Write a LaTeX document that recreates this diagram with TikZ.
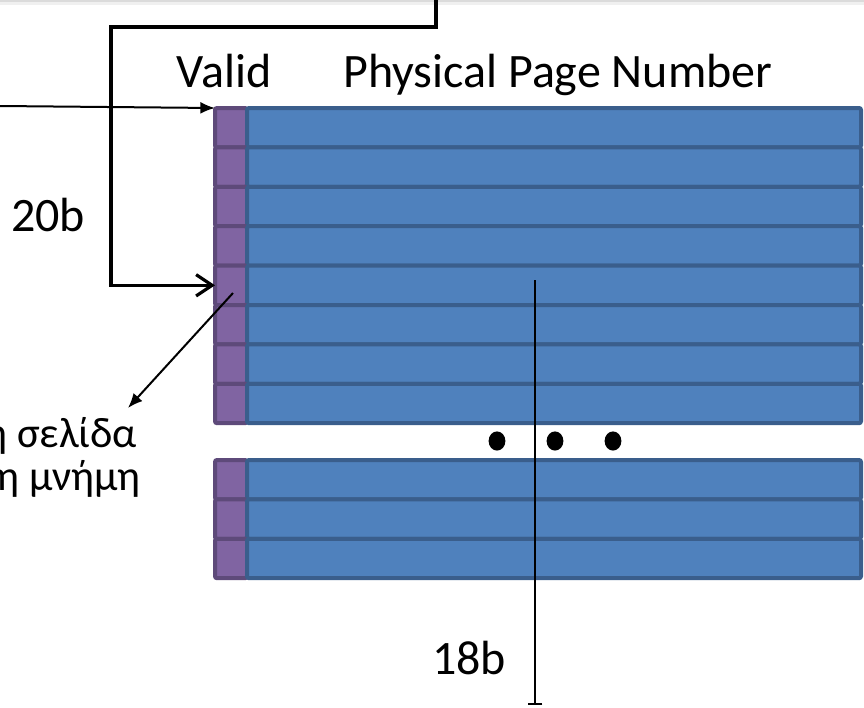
\documentclass[tikz,border=0pt]{standalone}
\usepackage{fontspec}
\setmainfont{Carlito}
\usetikzlibrary{arrows.meta}

\definecolor{validfill}{RGB}{128,100,162}
\definecolor{validline}{RGB}{94,74,122}
\definecolor{ppnfill}{RGB}{79,129,189}
\definecolor{ppnline}{RGB}{58,94,140}

\tikzset{
	validcell/.style={fill=validfill, draw=validline, line width=3pt, rounded corners=1.5pt},
	ppncell/.style={fill=ppnfill, draw=ppnline, line width=3pt, rounded corners=1.5pt},
	bigtext/.style={font=\fontsize{36}{42}\selectfont, inner sep=0pt},
	notetext/.style={font=\fontsize{32}{38}\selectfont, inner sep=0pt},
	wire/.style={line width=1.5pt}
}

\begin{document}
\begin{tikzpicture}[x=0.75pt, y=-0.75pt]
	% Frame of the picture (pixel units, y downwards)
	\clip (0,0) rectangle (864,707);

	% Define table geometry
	\def\xL{215}    % left edge (valid bit)
	\def\xV{247}    % border valid / page number
	\def\xR{861}    % right edge
	\def\rowH{39.4} % height of one row

	% Shadow of the box above
	\fill[black!14] (0,0) rectangle (864,2);
	\fill[black!6] (0,2) rectangle (864,5);

	% Draw the upper block of the page table
	\foreach \i in {1,...,8}{
		\pgfmathsetmacro\yt{108+(\i-1)*\rowH}
		\pgfmathsetmacro\yb{\yt+\rowH}
		\draw[validcell] (\xL,\yt) rectangle (\xV,\yb);
		\draw[ppncell] (\xV,\yt) rectangle (\xR,\yb);
		\coordinate (top\i) at (\xL,\yt);
		\coordinate (up\i) at (\xL,\yt+\rowH/2);
	}

	% Draw the lower block of the page table
	\foreach \i in {1,...,3}{
		\pgfmathsetmacro\yt{460+(\i-1)*\rowH}
		\pgfmathsetmacro\yb{\yt+\rowH}
		\draw[validcell] (\xL,\yt) rectangle (\xV,\yb);
		\draw[ppncell] (\xV,\yt) rectangle (\xR,\yb);
	}

	% Dots between the blocks
	\foreach \x in {497,555,613}
		\fill (\x,441) ellipse [x radius=6.3pt, y radius=7.2pt];

	% Column headings
	\node[bigtext, anchor=base] (valid) at (224,87) {Valid};
	\node[bigtext, anchor=base west] (ppn) at (343,87) {Physical Page Number};

	% Widths
	\node[bigtext] (w20) at (48,215) {20b};
	\node[bigtext] (w18) at (469,658) {18b};

	% Note on the valid bit
	\node[notetext, anchor=base east] (inmem1) at (137,447) {η σελίδα};
	\node[notetext, anchor=base east] (inmem2) at (141,490) {η μνήμη};

	% Connectors
	\coordinate (vpn) at (0,106);
	\coordinate (src) at (436,-3);
	\coordinate (bend) at (111,27);
	\coordinate (vbit) at (233,293);
	\coordinate (vtip) at (128,408);
	\coordinate (ppnbit) at (535,280);
	\coordinate (ppnend) at (535,705);

	\draw[wire, -{Latex[length=11pt,width=9pt]}] (vpn) -- (top1);
	\draw[line width=2.4pt, -{Straight Barb[length=12pt,width=16pt]}] (src) |- (bend) |- (up5);
	\draw[wire, -{Latex[length=11pt,width=9pt]}] (vbit) -- (vtip);
	\draw[wire, -{Bar[width=11pt]}] (ppnbit) -- (ppnend);
\end{tikzpicture}
\end{document}
